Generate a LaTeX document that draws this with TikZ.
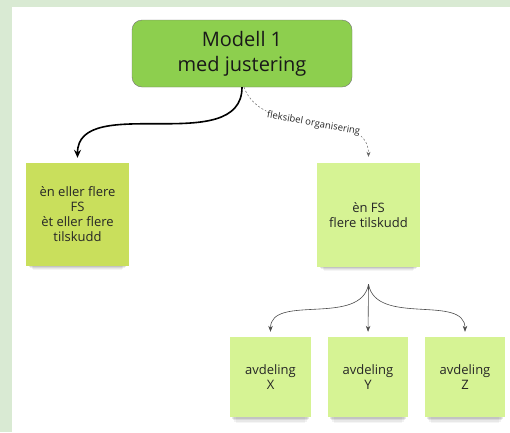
\documentclass[tikz,border=0pt]{standalone}
\usepackage{fontspec}
\setmainfont{Open Sans}
\usetikzlibrary{arrows.meta,shadows}

\definecolor{sidegreen}{HTML}{D9EAD3}
\definecolor{rootgreen}{HTML}{8DCF4E}
\definecolor{notelime}{HTML}{C9DF5C}
\definecolor{notepale}{HTML}{D6F394}

\tikzset{
  note/.style={draw=none, align=center, inner sep=0pt, font=\fontsize{13}{15}\selectfont,
               text=black!85,
               general shadow={fill=black, opacity=0.04, shadow yshift=-13pt, shadow scale=0.86},
               general shadow={fill=black, opacity=0.05, shadow yshift=-10pt, shadow scale=0.89},
               general shadow={fill=black, opacity=0.07, shadow yshift=-7pt, shadow scale=0.92},
               general shadow={fill=black, opacity=0.09, shadow yshift=-4pt, shadow scale=0.95}},
  rootbox/.style={draw=black!55, fill=rootgreen, rounded corners=10pt, align=center,
                  minimum width=220pt, minimum height=67pt, text=black!90,
                  font=\fontsize{20}{25}\selectfont},
  mainline/.style={draw=black, line width=1.6pt, ->, >={Stealth[length=8pt,width=7pt]}},
  flexline/.style={draw=black!60, dashed, dash pattern=on 2pt off 2pt, line width=0.5pt,
                   ->, >={Stealth[length=5pt,width=4pt]}},
  forkline/.style={draw=black!70, line width=0.6pt, ->, >={Stealth[length=6pt,width=4.5pt]}}
}

\begin{document}
\begin{tikzpicture}[x=1pt, y=1pt]
\useasboundingbox (0,0) rectangle (510,-432);
\fill[sidegreen] (0,0) rectangle (510,-432);
\fill[white] (12,-7) rectangle (510,-432);

% top box
\node[rootbox] (root) at (242,-53.5) {Modell 1\\med justering};

% notes
\node[note, fill=notelime, minimum width=103pt, minimum height=103pt] (many) at (77.5,-214.5)
  {èn eller flere\\FS\\èt eller flere\\tilskudd};
\node[note, fill=notepale, minimum width=103pt, minimum height=104pt] (oneFS) at (368.5,-215)
  {èn FS\\flere tilskudd};

\node[note, fill=notepale, minimum width=81pt, minimum height=80pt] (avdX) at (270.5,-377) {avdeling\\X};
\node[note, fill=notepale, minimum width=80pt, minimum height=80pt] (avdY) at (368,-377) {avdeling\\Y};
\node[note, fill=notepale, minimum width=80pt, minimum height=80pt] (avdZ) at (465,-377) {avdeling\\Z};

\coordinate (fork) at ([yshift=-17pt]oneFS.south);

% connectors
\draw[mainline, shorten >=5pt] (root.south) to[out=-90, in=90] (many.north);
\draw[flexline, shorten >=6pt] ([xshift=2pt]root.south) to[out=-70, in=90]
  node[sloped, fill=white, inner sep=1.5pt, text=black!85, font=\fontsize{9.5}{11}\selectfont]
  {fleksibel organisering} (oneFS.north);

\draw[forkline, shorten >=5pt] (fork) to[out=-100, in=90] (avdX.north);
\draw[forkline, shorten >=5pt] (fork) -- (avdY.north);
\draw[forkline, shorten >=5pt] (fork) to[out=-80, in=90] (avdZ.north);
\end{tikzpicture}
\end{document}
